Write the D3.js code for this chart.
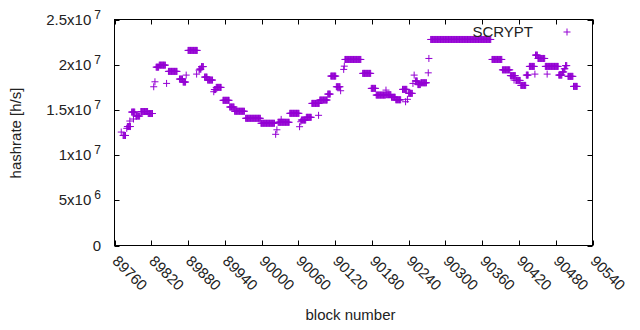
<!DOCTYPE html>
<html lang="en">
<head>
<meta charset="UTF-8">
<title>scrypt hashrate</title>
<script src="https://d3js.org/d3.v7.min.js"></script>
<style>
    * { margin: 0; padding: 0; }
    body { background: #fff; }
    text { font-family: "Liberation Sans", Arial, sans-serif; font-size: 15px; fill: #222; }
</style>
</head>
<body>
<script>
    // runs of blocks sharing one hashrate (MH/s)
    var runStart = [89771, 89774, 89780, 89781, 89785, 89788, 89791, 89795, 89803, 89815,
                    89824, 89826, 89828, 89833, 89845, 89848, 89866, 89872, 89877, 89880,
                    89894, 89898, 89899, 89902, 89907, 89912, 89922, 89923, 89926, 89937,
                    89948, 89956, 89974, 89999, 90023, 90025, 90027, 90032, 90046, 90062,
                    90064, 90065, 90073, 90082, 90093, 90095, 90108, 90113, 90122, 90129,
                    90134, 90135, 90136, 90165, 90179, 90187, 90203, 90204, 90212, 90219,
                    90230, 90235, 90238, 90240, 90247, 90249, 90251, 90255, 90260, 90272,
                    90273, 90276, 90376, 90393, 90406, 90412, 90415, 90423, 90432, 90437,
                    90446, 90447, 90451, 90463, 90466, 90485, 90491, 90494, 90496, 90500,
                    90509];
    var runEnd   = [89771, 89778, 89780, 89786, 89785, 89793, 89791, 89801, 89814, 89822,
                    89824, 89826, 89832, 89843, 89845, 89862, 89871, 89876, 89877, 89895,
                    89894, 89898, 89901, 89905, 89911, 89920, 89922, 89925, 89934, 89947,
                    89955, 89972, 89998, 90021, 90023, 90025, 90045, 90032, 90061, 90062,
                    90064, 90072, 90081, 90094, 90093, 90107, 90112, 90121, 90128, 90129,
                    90134, 90135, 90162, 90178, 90186, 90202, 90203, 90211, 90218, 90227,
                    90237, 90235, 90238, 90246, 90247, 90249, 90254, 90259, 90269, 90272,
                    90273, 90374, 90392, 90405, 90414, 90412, 90422, 90431, 90435, 90445,
                    90446, 90450, 90462, 90484, 90466, 90490, 90493, 90495, 90498, 90508,
                    90515];
    var runValue = [12.55, 12.17, 12.96, 13.16, 13.77, 14.76, 13.99, 14.32, 14.82, 14.60,
                    17.56, 18.11, 19.73, 19.95, 17.93, 19.26, 18.41, 18.08, 18.85, 21.58,
                    18.96, 19.40, 19.51, 19.79, 18.63, 18.30, 17.01, 17.25, 17.49, 16.06,
                    15.32, 14.85, 14.07, 13.52, 12.30, 12.80, 13.63, 13.95, 14.62, 13.14,
                    13.69, 13.88, 14.18, 15.72, 14.40, 16.09, 16.75, 18.74, 17.56, 17.12,
                    19.48, 19.84, 20.58, 19.04, 17.38, 16.64, 17.19, 16.68, 16.40, 16.12,
                    17.27, 15.90, 16.17, 16.83, 17.93, 18.85, 18.20, 17.80, 18.00, 19.10,
                    20.69, 22.79, 20.58, 19.43, 18.79, 18.30, 18.26, 17.71, 18.85, 19.81,
                    18.96, 21.06, 20.69, 19.81, 18.96, 18.85, 19.20, 19.55, 19.90, 18.71,
                    17.60];

    var xTicks = [89760, 89820, 89880, 89940, 90000, 90060, 90120, 90180, 90240,
                  90300, 90360, 90420, 90480, 90540];
    var yTicks = [0, 5e6, 1e7, 1.5e7, 2e7, 2.5e7];
    var yTickMant = ["0", "5", "1", "1.5", "2", "2.5"];
    var yTickExp  = ["", "6", "7", "7", "7", "7"];

    var seriesName = "SCRYPT";
    var color = "#9400d3";

    var width = 640, height = 330;
    var plotLeft = 114.5, plotRight = 592.5, plotTop = 19.5, plotBottom = 245.5;

    var points = [];
    for (let i = 0; i < runStart.length; i++) {
        for (let b = runStart[i]; b <= runEnd[i]; b++) {
            points.push({block: b, hashrate: runValue[i] * 1e6});
        }
    }

    var x = d3.scaleLinear().domain([89760, 90540]).range([plotLeft, plotRight]);
    var y = d3.scaleLinear().domain([0, 2.5e7]).range([plotBottom, plotTop]);

    var svg = d3.select("body").append("svg")
        .attr("width", width)
        .attr("height", height);

    function plus(cx, cy) {
        return "M" + (cx - 3.5) + "," + cy + "H" + (cx + 3.5) +
               "M" + cx + "," + (cy - 3.5) + "V" + (cy + 3.5);
    }

    // tick marks, mirrored on all four sides
    var ticks = svg.append("g").attr("stroke", "#000").attr("stroke-width", 1);
    xTicks.forEach(function(t) {
        var px = Math.round(x(t)) + 0.5;
        ticks.append("line").attr("x1", px).attr("x2", px).attr("y1", plotBottom).attr("y2", plotBottom - 5);
        ticks.append("line").attr("x1", px).attr("x2", px).attr("y1", plotTop).attr("y2", plotTop + 5);
    });
    yTicks.forEach(function(t) {
        var py = Math.round(y(t)) + 0.5;
        ticks.append("line").attr("x1", plotLeft).attr("x2", plotLeft + 5).attr("y1", py).attr("y2", py);
        ticks.append("line").attr("x1", plotRight).attr("x2", plotRight - 5).attr("y1", py).attr("y2", py);
    });

    // y tick labels like 1.5x10^7
    yTicks.forEach(function(t, i) {
        var lab = svg.append("text")
            .attr("x", 101)
            .attr("y", y(t) + 5)
            .attr("text-anchor", "end");
        if (yTickExp[i] === "") {
            lab.text(yTickMant[i]);
        } else {
            lab.append("tspan").text(yTickMant[i] + "x10");
            lab.append("tspan").attr("dx", 3).attr("dy", -6)
                .style("font-size", "12px").text(yTickExp[i]);
        }
    });

    // x tick labels rotated
    xTicks.forEach(function(t) {
        svg.append("text")
            .attr("transform", "translate(" + (x(t) - 3) + "," + 262 + ") rotate(45)")
            .text(t);
    });

    // points
    svg.append("g")
        .attr("fill", "none")
        .attr("stroke", color)
        .attr("stroke-width", 1)
        .selectAll("path")
        .data(points)
        .enter()
        .append("path")
        .attr("d", function(d) { return plus(x(d.block), y(d.hashrate)); });

    // legend
    svg.append("text")
        .attr("x", 533)
        .attr("y", 37)
        .attr("text-anchor", "end")
        .text(seriesName);
    svg.append("path")
        .attr("d", plus(567, 32))
        .attr("stroke", color)
        .attr("fill", "none");

    // frame
    svg.append("rect")
        .attr("x", plotLeft).attr("y", plotTop)
        .attr("width", plotRight - plotLeft).attr("height", plotBottom - plotTop)
        .attr("fill", "none").attr("stroke", "#000");

    svg.append("text")
        .attr("x", 350.5)
        .attr("y", 320)
        .attr("text-anchor", "middle")
        .text("block number");

    svg.append("text")
        .attr("transform", "translate(21,133) rotate(-90)")
        .attr("text-anchor", "middle")
        .text("hashrate [h/s]");
</script>
</body>
</html>
